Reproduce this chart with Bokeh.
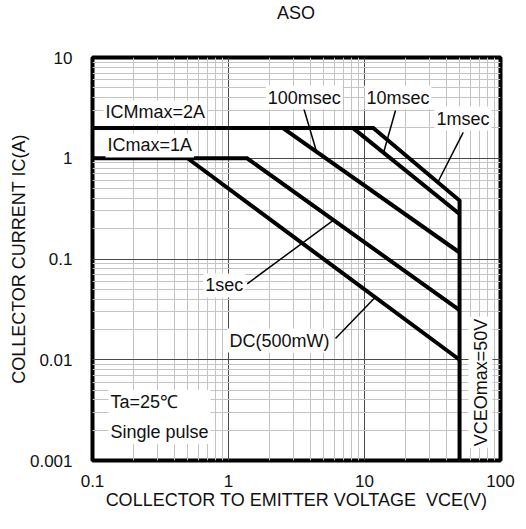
import math
from bokeh.plotting import figure
from bokeh.layouts import column
from bokeh.models import (Range1d, FixedTicker, CustomJSTickFormatter, Label, Div)
from bokeh.embed import file_html
from bokeh.resources import INLINE

# ---------------- data ----------------
v_ticks = [0.1, 1, 10, 100]
i_ticks = [0.001, 0.01, 0.1, 1, 10]

ICM_MAX = 2.0      # A (pulse)
IC_MAX = 1.0       # A (DC)
VCEO_MAX = 50.0    # V
I_MIN = 0.001

pulse_names = ["1msec", "10msec", "100msec", "1sec", "DC(500mW)"]
pulse_v_start = [11.6, 8.2, 2.5, 1.37, 0.5]       # V where the line leaves the current limit
pulse_i_start = [2.0, 2.0, 2.0, 1.0, 1.0]         # A
pulse_i_at_vceo = [0.38, 0.28, 0.116, 0.031, 0.01]  # A at VCEO max

# annotation anchors (data coords)
label_v = [53.0, 17.6, 3.6, 0.93, 2.37]
label_i = [2.48, 4.0, 4.0, 0.0546, 0.0155]
leader_v_start = [53.2, 16.9, 3.56, 1.372, 6.12]
leader_i_start = [1.81, 2.98, 3.19, 0.0567, 0.01625]
leader_v_on_curve = [34.6, 13.8, 4.44, 5.92, 12.0]

FONT = "Liberation Sans"
TITLE = "ASO"

# ---------------- figure ----------------
p = figure(frame_width=408, frame_height=403, x_axis_type="log", y_axis_type="log",
           x_range=Range1d(v_ticks[0], v_ticks[-1]),
           y_range=Range1d(i_ticks[0], i_ticks[-1]),
           output_backend="svg", toolbar_location=None,
           min_border_left=92, min_border_right=26,
           min_border_top=31, min_border_bottom=40, margin=0)

p.outline_line_color = "black"
p.outline_line_width = 4
p.background_fill_color = "white"
p.border_fill_color = "white"

def minor_of(majors):
    out = []
    for m in majors[:-1]:
        for k in range(2, 10):
            out.append(m * k)
    return out

p.xaxis.ticker = FixedTicker(ticks=v_ticks)
p.yaxis.ticker = FixedTicker(ticks=i_ticks)
p.xgrid.ticker = FixedTicker(ticks=v_ticks, minor_ticks=minor_of(v_ticks))
p.ygrid.ticker = FixedTicker(ticks=i_ticks, minor_ticks=minor_of(i_ticks))
for g in (p.xgrid, p.ygrid):
    g.grid_line_color = "#4a4a4a"
    g.grid_line_width = 1
    g.minor_grid_line_color = "#c4c4c4"
    g.minor_grid_line_width = 1

fmt = CustomJSTickFormatter(code="return tick.toString();")
for ax in (p.xaxis, p.yaxis):
    ax.formatter = fmt
    ax.axis_line_color = None
    ax.major_tick_line_color = None
    ax.minor_tick_line_color = None
    ax.major_label_text_font = FONT
    ax.major_label_text_font_size = "17px"
    ax.major_label_text_color = "#111111"
    ax.axis_label_text_font = FONT
    ax.axis_label_text_font_size = "18px"
    ax.axis_label_text_font_style = "normal"
    ax.axis_label_text_color = "#111111"

p.xaxis.axis_label = "COLLECTOR TO EMITTER VOLTAGE\u00a0\u00a0VCE(V)"
p.yaxis.axis_label = "COLLECTOR CURRENT IC(A)"
p.xaxis.major_label_standoff = 8
p.yaxis.major_label_standoff = 14
p.xaxis.axis_label_standoff = 0
p.yaxis.axis_label_standoff = -2

# ---------------- safe operating area lines ----------------
LW = 4
# pulse current limit -> 1msec -> VCEO limit
p.line(x=[v_ticks[0], pulse_v_start[0], VCEO_MAX, VCEO_MAX],
       y=[ICM_MAX, ICM_MAX, pulse_i_at_vceo[0], I_MIN],
       line_width=LW, line_color="black", line_join="miter")
# DC current limit -> 1sec
p.line(x=[v_ticks[0], pulse_v_start[3], VCEO_MAX],
       y=[IC_MAX, IC_MAX, pulse_i_at_vceo[3]],
       line_width=LW, line_color="black", line_join="miter")
for k in (1, 2, 4):
    p.line(x=[pulse_v_start[k], VCEO_MAX], y=[pulse_i_start[k], pulse_i_at_vceo[k]],
           line_width=LW, line_color="black")

# leader lines
def on_curve(k, v):
    lv0, lv1 = math.log10(pulse_v_start[k]), math.log10(VCEO_MAX)
    li0, li1 = math.log10(pulse_i_start[k]), math.log10(pulse_i_at_vceo[k])
    t = (math.log10(v) - lv0) / (lv1 - lv0)
    return 10 ** (li0 + t * (li1 - li0))

for k in range(len(pulse_names)):
    p.line(x=[leader_v_start[k], leader_v_on_curve[k]],
           y=[leader_i_start[k], on_curve(k, leader_v_on_curve[k])],
           line_width=1.5, line_color="black")

# ---------------- text labels ----------------
def add_label(x, y, text, align="left", angle=0.0, lh=1.2):
    lab = Label(x=x, y=y, text=text, text_align=align, text_baseline="middle",
                text_font=FONT, text_font_size="18px", text_color="#111111",
                background_fill_color="white", angle=angle,
                padding=2, text_line_height=lh)
    p.add_layout(lab)

for k, name in enumerate(pulse_names):
    add_label(label_v[k], label_i[k], name, align="center")

add_label(0.1205, 2.85, "ICMmax=2A")
add_label(0.1246, 1.339, "ICmax=1A")
add_label(71.3, 0.00594, "VCEOmax=50V", align="center", angle=math.pi / 2)
add_label(0.131, 0.0027, "Ta=25\u2103\nSingle pulse", lh=1.5)

# chart title centred above the plotting frame
title = Div(text=TITLE, width=526, height=26, margin=0,
            styles={"box-sizing": "border-box", "padding-left": "92px",
                    "padding-right": "26px", "text-align": "center",
                    "font-family": FONT, "font-size": "18px",
                    "line-height": "26px", "color": "#111111",
                    "width": "526px"})

layout = column(title, p, spacing=0)
open("out.html", "w").write(file_html(layout, INLINE))
